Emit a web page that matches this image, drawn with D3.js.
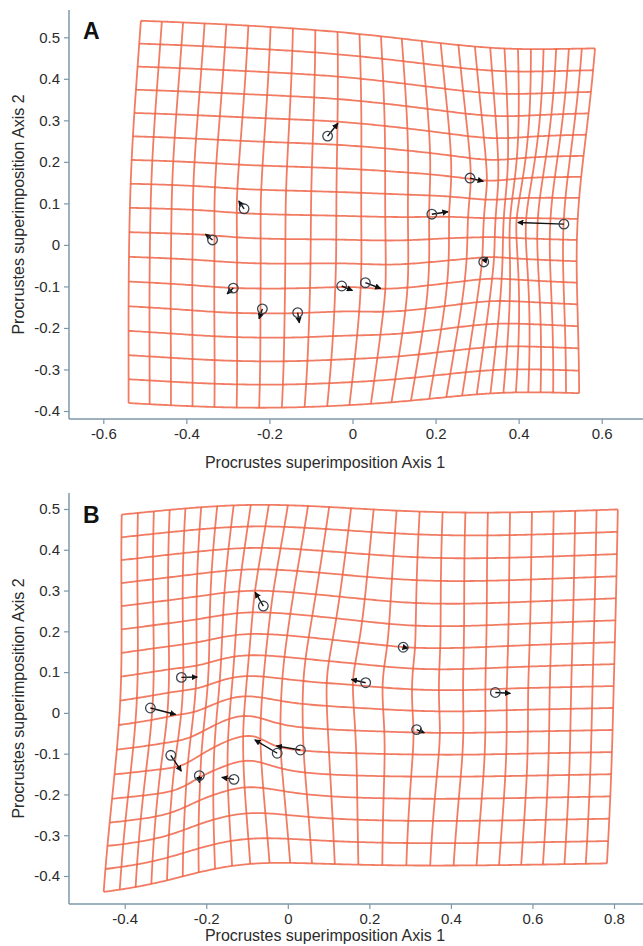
<!DOCTYPE html>
<html>
<head>
<meta charset="utf-8">
<script src="https://cdn.jsdelivr.net/npm/d3@7"></script>
<style>
  body { margin: 0; background: #fff; }
  svg { font-family: "Liberation Sans", Arial, sans-serif; }
</style>
</head>
<body>
<svg id="chart" width="643" height="946"></svg>
<script>
// reference (consensus) landmarks, shared by both panels
var refLandmarks = [
    [-0.060, 0.262], [-0.261, 0.087], [-0.337, 0.012], [-0.287, -0.104],
    [-0.217, -0.154], [-0.132, -0.163], [-0.026, -0.099], [0.031, -0.091],
    [0.316, -0.041], [0.509, 0.050], [0.191, 0.074], [0.283, 0.161]
];
// target landmarks, panel A
var targetA = [
    [-0.035, 0.293], [-0.274, 0.106], [-0.354, 0.026], [-0.302, -0.118],
    [-0.225, -0.178], [-0.128, -0.188], [0.000, -0.110], [0.068, -0.105],
    [0.325, -0.030], [0.398, 0.054], [0.230, 0.080], [0.315, 0.153]
];
// target landmarks, panel B
var targetB = [
    [-0.080, 0.296], [-0.222, 0.088], [-0.275, -0.004], [-0.261, -0.143],
    [-0.217, -0.171], [-0.162, -0.158], [-0.081, -0.066], [-0.028, -0.081],
    [0.335, -0.049], [0.546, 0.048], [0.156, 0.082], [0.295, 0.158]
];
var xTicksA = [-0.6, -0.4, -0.2, 0, 0.2, 0.4, 0.6];
var xTicksB = [-0.4, -0.2, 0, 0.2, 0.4, 0.6, 0.8];
var yTicks = [-0.4, -0.3, -0.2, -0.1, 0, 0.1, 0.2, 0.3, 0.4, 0.5];

var svg = d3.select("#chart");
var axisColor = "#7d98a8";
var gridColor = "#ef6548";

// thin-plate spline from src to dst landmarks
function U(r) {
    return r === 0 ? 0 : r * r * Math.log(r * r);
}
function solve(A, b) {
    var n = b.length, M = A.map(function (row, i) { return row.concat([b[i]]); });
    for (var c = 0; c < n; c++) {
        var p = c;
        for (var r = c + 1; r < n; r++) if (Math.abs(M[r][c]) > Math.abs(M[p][c])) p = r;
        var t = M[c]; M[c] = M[p]; M[p] = t;
        for (var r2 = c + 1; r2 < n; r2++) {
            var f = M[r2][c] / M[c][c];
            for (var k = c; k <= n; k++) M[r2][k] -= f * M[c][k];
        }
    }
    var x = new Array(n);
    for (var i = n - 1; i >= 0; i--) {
        var s = M[i][n];
        for (var j = i + 1; j < n; j++) s -= M[i][j] * x[j];
        x[i] = s / M[i][i];
    }
    return x;
}
function tps(src, dst) {
    var n = src.length, m = n + 3, L = [];
    for (var i = 0; i < m; i++) { L.push(new Array(m).fill(0)); }
    for (var i2 = 0; i2 < n; i2++) {
        for (var j = 0; j < n; j++) {
            L[i2][j] = U(Math.hypot(src[i2][0] - src[j][0], src[i2][1] - src[j][1]));
        }
        L[i2][n] = L[n][i2] = 1;
        L[i2][n + 1] = L[n + 1][i2] = src[i2][0];
        L[i2][n + 2] = L[n + 2][i2] = src[i2][1];
    }
    var bx = dst.map(function (d) { return d[0]; }).concat([0, 0, 0]);
    var by = dst.map(function (d) { return d[1]; }).concat([0, 0, 0]);
    var wx = solve(L, bx), wy = solve(L, by);
    return function (x, y) {
        var fx = wx[n] + wx[n + 1] * x + wx[n + 2] * y;
        var fy = wy[n] + wy[n + 1] * x + wy[n + 2] * y;
        for (var k = 0; k < n; k++) {
            var u = U(Math.hypot(x - src[k][0], y - src[k][1]));
            fx += wx[k] * u; fy += wy[k] * u;
        }
        return [fx, fy];
    };
}

var fmt = function (d) { return d === 0 ? "0" : d3.format(".1f")(d).replace("\u2212", "-"); };

function panel(opt) {
    var g = svg.append("g");
    var x = d3.scaleLinear().domain(opt.xDomain).range(opt.xRange);
    var y = d3.scaleLinear().domain([-0.4, 0.5]).range(opt.yRange);
    var warp = tps(refLandmarks, opt.target);

    // deformation grid: regular grid on the reference, warped to the target
    var nx = 25, ny = 16, gx = opt.grid[0], gy = opt.grid[1];
    var cw = (gx[1] - gx[0]) / nx, ch = (gy[1] - gy[0]) / ny;
    var line = d3.line().x(function (d) { return x(d[0]); }).y(function (d) { return y(d[1]); });
    var lines = [];
    for (var j = 0; j <= ny; j++) {
        lines.push(d3.range(0, nx * 8 + 1).map(function (k) {
            return warp(gx[0] + k * cw / 8, gy[0] + j * ch);
        }));
    }
    for (var i = 0; i <= nx; i++) {
        lines.push(d3.range(0, ny * 8 + 1).map(function (k) {
            return warp(gx[0] + i * cw, gy[0] + k * ch / 8);
        }));
    }
    g.selectAll("path.grid")
        .data(lines)
        .enter()
        .append("path")
        .attr("class", "grid")
        .attr("d", line)
        .attr("fill", "none")
        .attr("stroke", gridColor)
        .attr("stroke-width", 1.8)
        .attr("stroke-opacity", 0.85);

    // landmark displacement vectors
    var pairs = refLandmarks.map(function (d, i) { return [d, opt.target[i]]; });
    g.selectAll("line.vec")
        .data(pairs)
        .enter()
        .append("line")
        .attr("x1", function (d) { return x(d[0][0]); })
        .attr("y1", function (d) { return y(d[0][1]); })
        .attr("x2", function (d) { return x(d[1][0]); })
        .attr("y2", function (d) { return y(d[1][1]); })
        .attr("stroke", "#111")
        .attr("stroke-width", 1.4)
        .attr("marker-end", "url(#arrow)");
    g.selectAll("circle")
        .data(refLandmarks)
        .enter()
        .append("circle")
        .attr("cx", function (d) { return x(d[0]); })
        .attr("cy", function (d) { return y(d[1]); })
        .attr("r", 4.8)
        .attr("fill", "none")
        .attr("stroke", "#3c4650")
        .attr("stroke-width", 1.3);

    // axes
    var xAxis = g.append("g")
        .attr("transform", "translate(0," + opt.axisY + ")")
        .call(d3.axisBottom(x).tickValues(opt.xTicks).tickSizeOuter(0).tickSize(5).tickPadding(4)
            .tickFormat(fmt));
    var yAxis = g.append("g")
        .attr("transform", "translate(" + opt.axisX + ",0)")
        .call(d3.axisLeft(y).tickValues(yTicks).tickSizeOuter(0).tickSize(5).tickPadding(4)
            .tickFormat(fmt));
    [xAxis, yAxis].forEach(function (a) {
        a.select(".domain").remove();
        a.selectAll(".tick line").attr("stroke", axisColor).attr("stroke-width", 1.2);
        a.selectAll(".tick text").attr("fill", "#2b2b2b").style("font-size", "15px");
    });
    g.append("line")
        .attr("x1", opt.axisX).attr("x2", 643)
        .attr("y1", opt.axisY).attr("y2", opt.axisY)
        .attr("stroke", axisColor).attr("stroke-width", 1.5);
    g.append("line")
        .attr("x1", opt.axisX).attr("x2", opt.axisX)
        .attr("y1", opt.axisTop).attr("y2", opt.axisY)
        .attr("stroke", axisColor).attr("stroke-width", 1.5);

    g.append("text")
        .attr("x", 325).attr("y", opt.titleY)
        .attr("text-anchor", "middle")
        .style("font-size", "16px").attr("fill", "#2b2b2b")
        .text("Procrustes superimposition Axis 1");
    g.append("text")
        .attr("transform", "translate(24," + ((opt.axisTop + opt.axisY) / 2) + ") rotate(-90)")
        .attr("text-anchor", "middle")
        .style("font-size", "16px").attr("fill", "#2b2b2b")
        .text("Procrustes superimposition Axis 2");
    g.append("text")
        .attr("x", 83).attr("y", opt.labelY)
        .style("font-size", "23px").style("font-weight", "bold").attr("fill", "#111")
        .text(opt.label);
}

svg.append("defs").append("marker")
    .attr("id", "arrow")
    .attr("viewBox", "0 0 10 10")
    .attr("refX", 9).attr("refY", 5)
    .attr("markerWidth", 4.5).attr("markerHeight", 4.5)
    .attr("orient", "auto")
    .append("path")
    .attr("d", "M0,0L10,5L0,10z")
    .attr("fill", "#111");

var gridExtent = [[-0.52, 0.755], [-0.3465, 0.4695]];

panel({
    label: "A", target: targetA, xTicks: xTicksA,
    xDomain: [-0.6, 0.6], xRange: [103.3, 601.7], yRange: [411, 37.3],
    axisX: 69, axisY: 419, axisTop: 10, labelY: 39, titleY: 468,
    grid: gridExtent
});
panel({
    label: "B", target: targetB, xTicks: xTicksB,
    xDomain: [-0.4, 0.8], xRange: [124.7, 614], yRange: [876, 509],
    axisX: 69, axisY: 904, axisTop: 493, labelY: 523, titleY: 941,
    grid: gridExtent
});
</script>
</body>
</html>
